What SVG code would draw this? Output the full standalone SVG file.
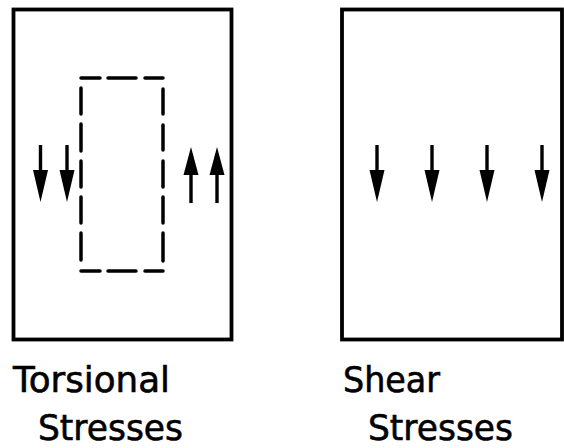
<svg xmlns="http://www.w3.org/2000/svg" width="564" height="448" viewBox="0 0 564 448">
<style>
.box{fill:#fff;stroke:#000;stroke-width:3.8}
.dash{stroke:#000;stroke-width:3.5;stroke-linecap:round}
.shaft{stroke:#000;stroke-width:3.4}
.head{fill:#000}
.lbl{font-family:"DejaVu Sans","Liberation Sans",sans-serif;font-size:35px;fill:#000;stroke:#000;stroke-width:0.6}
</style>
<rect width="564" height="448" fill="#fff"/>
<defs>
<g id="down"><line class="shaft" x1="0" y1="0" x2="0" y2="30"/><polygon class="head" points="-7.5,25 7.5,25 0,57"/></g>
<g id="up"><line class="shaft" x1="0" y1="26" x2="0" y2="56"/><polygon class="head" points="-7.5,28 7.5,28 0,0"/></g>
</defs>
<g id="torsional">
<rect class="box" x="13.5" y="9.5" width="218" height="330"/>
<g id="dashed-element">
<line class="dash" x1="81" y1="78" x2="100" y2="78"/>
<line class="dash" x1="108" y1="78" x2="136" y2="78"/>
<line class="dash" x1="145" y1="78" x2="163" y2="78"/>
<line class="dash" x1="81" y1="271" x2="100" y2="271"/>
<line class="dash" x1="108" y1="271" x2="136" y2="271"/>
<line class="dash" x1="145" y1="271" x2="163" y2="271"/>
<line class="dash" x1="81" y1="88" x2="81" y2="114"/>
<line class="dash" x1="81" y1="124" x2="81" y2="151"/>
<line class="dash" x1="81" y1="161" x2="81" y2="187"/>
<line class="dash" x1="81" y1="197" x2="81" y2="223"/>
<line class="dash" x1="81" y1="233" x2="81" y2="260"/>
<line class="dash" x1="163" y1="89" x2="163" y2="114"/>
<line class="dash" x1="163" y1="125" x2="163" y2="150"/>
<line class="dash" x1="163" y1="161" x2="163" y2="187"/>
<line class="dash" x1="163" y1="197" x2="163" y2="223"/>
<line class="dash" x1="163" y1="233" x2="163" y2="261"/>
</g>
<use href="#down" x="40.5" y="145"/>
<use href="#down" x="67" y="145"/>
<use href="#up" x="191" y="147"/>
<use href="#up" x="217" y="147"/>
<text class="lbl" x="13" y="392" textLength="157" lengthAdjust="spacingAndGlyphs">Torsional</text>
<text class="lbl" x="38" y="440" textLength="145" lengthAdjust="spacingAndGlyphs">Stresses</text>
</g>
<g id="shear">
<rect class="box" x="342" y="9.5" width="220" height="330"/>
<use href="#down" x="377" y="145"/>
<use href="#down" x="432" y="145"/>
<use href="#down" x="487" y="145"/>
<use href="#down" x="542" y="145"/>
<text class="lbl" x="343" y="392" textLength="97" lengthAdjust="spacingAndGlyphs">Shear</text>
<text class="lbl" x="368" y="440" textLength="145" lengthAdjust="spacingAndGlyphs">Stresses</text>
</g>
<g id="connectors"></g>
</svg>
